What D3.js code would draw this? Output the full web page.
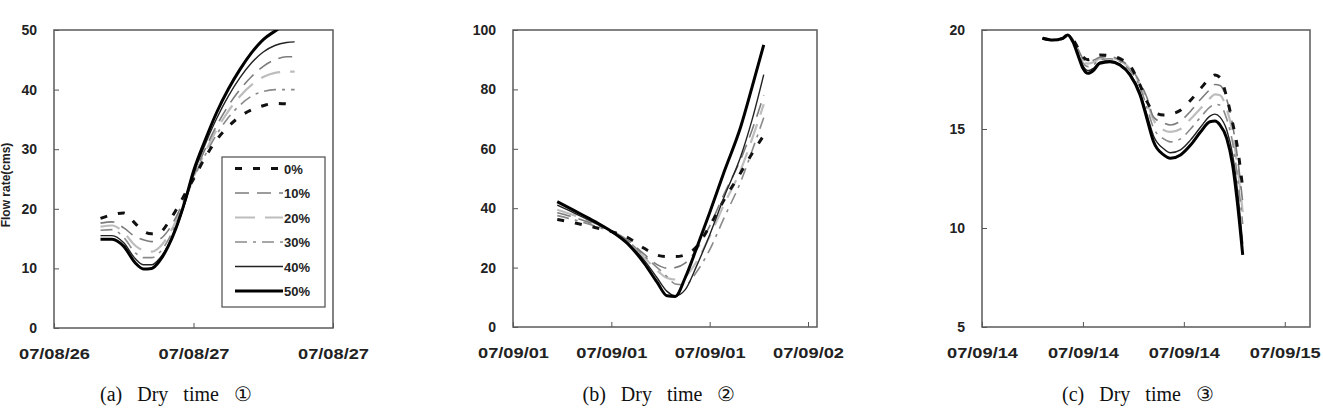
<!DOCTYPE html>
<html>
<head>
<meta charset="utf-8">
<script src="https://cdn.jsdelivr.net/npm/d3@7"></script>
<style>
  body { margin: 0; background: #fff; }
  svg { display: block; }
  .tick text { font-family: "Liberation Sans", Arial, sans-serif; font-weight: bold; fill: #222; }
  .tick line { stroke: #555; }
</style>
</head>
<body>
<svg id="chart" width="1323" height="417"></svg>
<script>
// series names (legend)
var seriesNames = ["0%", "10%", "20%", "30%", "40%", "50%"];

// (a) Dry time 1 : hours from axis start
var aTime = [4, 5, 6, 7, 7.7, 8.4, 9.1, 9.8, 10.5, 11.3, 12, 13, 14, 15, 16, 17, 18, 19, 20, 20.7];
var a0  = [18.4, 19.0, 19.3, 17.5, 16.2, 15.8, 16.0, 17.6, 19.8, 22.6, 25.0, 28.6, 31.6, 33.8, 35.5, 36.6, 37.3, 37.7, 37.6, 37.3];
var a10 = [17.6, 17.8, 16.8, 15.3, 14.8, 14.5, 14.9, 16.3, 18.6, 22.0, 25.5, 30.0, 34.0, 37.3, 40.0, 42.2, 43.9, 45.0, 45.5, 45.5];
var a20 = [17.0, 17.2, 16.0, 13.8, 13.0, 12.8, 13.6, 15.4, 18.0, 21.8, 25.3, 29.5, 33.3, 36.4, 38.9, 40.8, 42.1, 42.8, 43.0, 43.0];
var a30 = [16.4, 16.5, 15.2, 12.6, 11.8, 11.8, 12.7, 14.7, 17.5, 21.5, 25.0, 29.0, 32.5, 35.3, 37.4, 38.9, 39.7, 40.0, 40.0, 40.0];
var a40 = [15.5, 15.5, 14.3, 11.6, 10.6, 10.6, 11.7, 13.8, 16.6, 21.2, 25.8, 30.8, 35.2, 38.9, 42.0, 44.5, 46.3, 47.4, 47.9, 48.0];
var a50 = [14.9, 14.9, 13.7, 10.9, 9.9, 10.0, 11.3, 13.6, 16.8, 21.5, 26.3, 31.5, 36.2, 40.1, 43.4, 46.2, 48.4, 49.8, 51.0, 51.5];
var aTicks = ["07/08/26", "07/08/27", "07/08/27"];

// (b) Dry time 2
var bTime = [2.7, 3.8, 5.0, 6.2, 7.1, 8.0, 8.8, 9.4, 9.9, 10.5, 11.2, 12.0, 12.9, 13.9, 14.6, 15.3];
var b0  = [36.2, 35.0, 33.5, 31.8, 29.8, 26.5, 24.2, 23.7, 23.7, 24.3, 27.0, 34.0, 43.0, 52.0, 58.5, 64.5];
var b10 = [38.5, 36.8, 34.5, 31.8, 28.8, 24.5, 21.0, 19.8, 20.0, 21.5, 26.0, 34.0, 45.0, 56.5, 66.5, 78.0];
var b20 = [39.5, 37.5, 35.0, 32.0, 28.5, 23.5, 19.0, 16.5, 16.0, 17.0, 22.0, 30.5, 41.5, 53.0, 63.5, 75.0];
var b30 = [37.5, 36.0, 34.0, 31.5, 28.5, 24.0, 20.0, 17.0, 14.5, 14.2, 18.5, 26.0, 37.0, 49.0, 59.5, 70.5];
var b40 = [41.0, 38.2, 35.0, 31.5, 27.8, 22.5, 16.5, 12.0, 10.5, 12.5, 20.5, 31.0, 44.0, 57.5, 70.0, 85.0];
var b50 = [42.2, 39.0, 35.5, 31.5, 27.5, 21.5, 15.0, 10.5, 10.3, 16.5, 26.5, 38.5, 52.5, 67.5, 81.0, 95.0];
var bTicks = ["07/09/01", "07/09/01", "07/09/01", "07/09/02"];

// (c) Dry time 3
var cTime = [3.6, 4.2, 4.8, 5.1, 5.4, 5.7, 6.0, 6.3, 6.65, 7.0, 7.6, 8.2, 8.8, 9.4, 9.8, 10.2, 10.8, 11.2, 11.8, 12.4, 13.0, 13.55, 13.85, 14.15, 14.55, 14.9, 15.2, 15.5];
var c0  = [19.58, 19.49, 19.58, 19.75, 19.55, 19.1, 18.65, 18.5, 18.6, 18.74, 18.7, 18.55, 18.2, 17.2, 16.4, 15.87, 15.71, 15.75, 15.95, 16.45, 17.05, 17.55, 17.73, 17.6, 16.6, 15.3, 14.0, 12.0];
var c10 = [19.58, 19.49, 19.58, 19.75, 19.52, 19.05, 18.55, 18.4, 18.48, 18.62, 18.65, 18.5, 18.1, 17.35, 16.6, 15.6, 15.3, 15.2, 15.4, 15.9, 16.5, 17.0, 17.25, 17.2, 16.5, 15.2, 13.5, 11.3];
var c20 = [19.58, 19.49, 19.58, 19.75, 19.5, 19.0, 18.45, 18.3, 18.38, 18.55, 18.6, 18.45, 18.05, 17.25, 16.4, 15.45, 14.95, 14.85, 15.0, 15.5, 16.05, 16.55, 16.75, 16.7, 16.0, 14.8, 13.0, 10.8];
var c30 = [19.58, 19.49, 19.58, 19.75, 19.48, 18.95, 18.35, 18.15, 18.25, 18.5, 18.55, 18.4, 17.95, 17.1, 16.1, 15.05, 14.5, 14.35, 14.5, 15.0, 15.6, 16.1, 16.25, 16.2, 15.5, 14.3, 12.5, 10.2];
var c40 = [19.58, 19.49, 19.58, 19.75, 19.45, 18.85, 18.2, 17.95, 18.08, 18.38, 18.45, 18.28, 17.8, 16.85, 15.75, 14.65, 14.0, 13.8, 13.95, 14.45, 15.1, 15.65, 15.75, 15.6, 14.95, 13.7, 11.8, 9.2];
var c50 = [19.58, 19.49, 19.58, 19.75, 19.41, 18.74, 18.07, 17.81, 17.98, 18.32, 18.40, 18.23, 17.73, 16.72, 15.54, 14.36, 13.69, 13.52, 13.69, 14.19, 14.86, 15.37, 15.40, 15.20, 14.53, 13.18, 11.16, 8.64];
var cTicks = ["07/09/14", "07/09/14", "07/09/14", "07/09/15"];

// line styles per series
var styles = [
	{ color: "#111", width: 3, dash: "7,11" },
	{ color: "#7c7c7c", width: 1.6, dash: "14,8" },
	{ color: "#bdbdbd", width: 2.2, dash: "20,10" },
	{ color: "#8a8a8a", width: 1.6, dash: "12,6,3,6" },
	{ color: "#222", width: 1.4, dash: null },
	{ color: "#000", width: 3, dash: null }
];
var drawOrder = [2, 3, 1, 0, 4, 5];

var svg = d3.select("#chart");

function drawPanel(id, box, xMax, xTickVals, xLabels, yDomain, yStep, time, series) {
	var x = d3.scaleLinear().domain([0, xMax]).range([box.left, box.right]);
	var y = d3.scaleLinear().domain(yDomain).range([box.bottom, box.top]);

	var g = svg.append("g").attr("id", id);

	g.append("clipPath").attr("id", "clip" + id)
		.append("rect")
		.attr("x", box.left).attr("y", box.top)
		.attr("width", box.right - box.left).attr("height", box.bottom - box.top);

	var yTicks = d3.range(yDomain[0], yDomain[1] + 0.001, yStep);
	var yAxis = g.append("g")
		.attr("transform", "translate(" + box.left + ",0)")
		.call(d3.axisLeft(y).tickValues(yTicks).tickSize(-5).tickPadding(17).tickFormat(d3.format("d")));
	yAxis.select(".domain").remove();
	yAxis.selectAll("text").attr("font-size", 14);

	var xAxis = g.append("g")
		.attr("transform", "translate(0," + box.bottom + ")")
		.call(d3.axisBottom(x).tickValues(xTickVals).tickSize(-5).tickPadding(21)
			.tickFormat(function (d, i) { return xLabels[i]; }));
	xAxis.select(".domain").remove();
	xAxis.selectAll("text")
		.attr("font-size", 14)
		.attr("textLength", 71)
		.attr("lengthAdjust", "spacingAndGlyphs")
		.attr("x", -35.5)
		.attr("text-anchor", "start");

	g.append("rect")
		.attr("x", box.left).attr("y", box.top)
		.attr("width", box.right - box.left).attr("height", box.bottom - box.top)
		.attr("fill", "none").attr("stroke", "#5a5a5a").attr("stroke-width", 1.5);

	var line = d3.line()
		.x(function (d) { return x(d[0]); })
		.y(function (d) { return y(d[1]); })
		.curve(d3.curveMonotoneX);

	var lines = g.append("g").attr("clip-path", "url(#clip" + id + ")");
	drawOrder.forEach(function (k) {
		var pts = time.map(function (t, i) { return [t, series[k][i]]; });
		var p = lines.append("path")
			.attr("d", line(pts))
			.attr("fill", "none")
			.attr("stroke", styles[k].color)
			.attr("stroke-width", styles[k].width)
			.attr("stroke-linejoin", "round");
		if (styles[k].dash) p.attr("stroke-dasharray", styles[k].dash);
	});
	return g;
}

var boxA = { left: 54, right: 333, top: 30, bottom: 328 };
var boxB = { left: 513, right: 817, top: 30, bottom: 327 };
var boxC = { left: 982, right: 1310, top: 30, bottom: 327 };

var gA = drawPanel("A", boxA, 24, [0, 12, 24], aTicks, [0, 50], 10, aTime, [a0, a10, a20, a30, a40, a50]);
drawPanel("B", boxB, 18.55, [0, 6, 12, 18], bTicks, [0, 100], 20, bTime, [b0, b10, b20, b30, b40, b50]);
drawPanel("C", boxC, 19.5, [0, 6, 12, 18], cTicks, [5, 20], 5, cTime, [c0, c10, c20, c30, c40, c50]);

// y axis title at the very left edge
svg.append("text")
	.attr("transform", "translate(10,185) rotate(-90)")
	.attr("text-anchor", "middle")
	.attr("font-family", "Liberation Sans, Arial, sans-serif")
	.attr("font-weight", "bold")
	.attr("font-size", 12)
	.attr("fill", "#222")
	.text("Flow rate(cms)");

// legend in panel (a)
var legend = gA.append("g");
legend.append("rect")
	.attr("x", 222).attr("y", 157).attr("width", 103).attr("height", 150)
	.attr("fill", "#fff").attr("stroke", "#5a5a5a").attr("stroke-width", 1.3);
seriesNames.forEach(function (name, k) {
	var ly = 168.5 + k * 24.5;
	var l = legend.append("line")
		.attr("x1", 235).attr("x2", 283).attr("y1", ly).attr("y2", ly)
		.attr("stroke", styles[k].color)
		.attr("stroke-width", styles[k].width);
	if (styles[k].dash) l.attr("stroke-dasharray", styles[k].dash);
	legend.append("text")
		.attr("x", 284).attr("y", ly + 5)
		.attr("font-family", "Liberation Sans, Arial, sans-serif")
		.attr("font-weight", "bold")
		.attr("font-size", 13)
		.attr("fill", "#222")
		.text(name);
});

// captions
var captions = ["(a) Dry time \u2460", "(b) Dry time \u2461", "(c) Dry time \u2462"];
var captionX = [176, 659, 1138];
captions.forEach(function (c, i) {
	svg.append("text")
		.attr("x", captionX[i]).attr("y", 401)
		.attr("text-anchor", "middle")
		.attr("font-family", "Liberation Serif, Times New Roman, serif")
		.attr("font-size", 20)
		.style("word-spacing", "10px")
		.attr("fill", "#111")
		.text(c);
});
</script>
</body>
</html>
